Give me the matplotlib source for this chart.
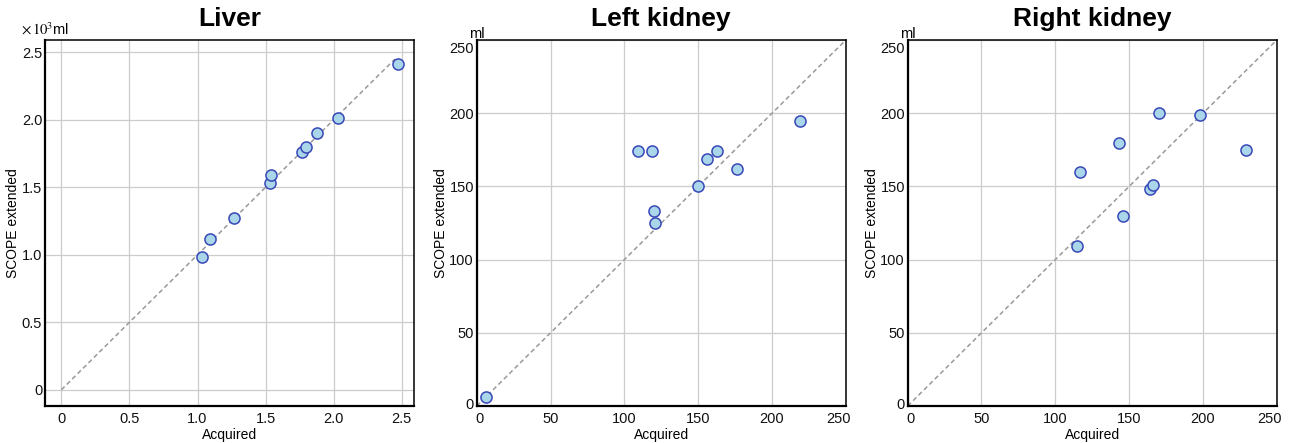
import numpy as np
import matplotlib
matplotlib.use("Agg")
import matplotlib.pyplot as plt
from matplotlib.transforms import ScaledTranslation

plt.rcParams['font.family'] = ['Liberation Sans', 'DejaVu Sans']
plt.rcParams['mathtext.fontset'] = 'stix'

# liver volumes (x10^3 ml)
liver_acq = [1.03, 1.09, 1.27, 1.53, 1.54, 1.77, 1.80, 1.88, 2.03, 2.47]
liver_scope = [0.98, 1.12, 1.27, 1.53, 1.59, 1.76, 1.80, 1.90, 2.01, 2.41]

# left kidney (ml)
lk_acq = [6, 109, 119, 120, 121, 150, 156, 163, 176, 219]
lk_scope = [6, 174, 174, 133, 125, 150, 169, 174, 162, 195]

# right kidney (ml)
rk_acq = [115, 117, 143, 146, 164, 166, 170, 198, 229]
rk_scope = [109, 160, 180, 130, 148, 151, 200, 199, 175]

titles = ['Liver', 'Left kidney', 'Right kidney']
units = [r'$\times\,10^{3}$ml', 'ml', 'ml']
unit_y = [1.007, 0.997, 0.997]

fig = plt.figure(figsize=(12.93, 4.43), dpi=100)
lefts = [0.0348, 0.3687, 0.702]
axes = [fig.add_axes([l, 0.0835, 0.2854, 0.826]) for l in lefts]

panels = [
    (liver_acq, liver_scope, (-0.12, 2.59), [0, 0.5, 1.0, 1.5, 2.0, 2.5],
     ['0', '0.5', '1.0', '1.5', '2.0', '2.5'], 2.45),
    (lk_acq, lk_scope, (0, 250), [0, 50, 100, 150, 200, 250],
     ['0', '50', '100', '150', '200', '250'], 250),
    (rk_acq, rk_scope, (0, 250), [0, 50, 100, 150, 200, 250],
     ['0', '50', '100', '150', '200', '250'], 250),
]

def nudge(lbl, dx, dy):
    # shift an edge tick label by a few pixels so it stays inside the frame
    lbl.set_transform(lbl.get_transform() + ScaledTranslation(dx / 100, dy / 100, fig.dpi_scale_trans))

for ax, (xs, ys, lim, ticks, labels, lend), title, unit, uy in zip(axes, panels, titles, units, unit_y):
    ax.set_xlim(lim)
    ax.set_ylim(lim)
    ax.set_xticks(ticks)
    ax.set_yticks(ticks)
    ax.set_xticklabels(labels)
    ax.set_yticklabels(labels)
    ax.grid(True, color='#cccccc', linewidth=0.9)
    ax.set_axisbelow(True)
    ax.tick_params(length=0, labelsize=10.5, colors='#111111')
    ax.tick_params(axis='y', pad=2)
    ax.tick_params(axis='x', pad=4)
    ax.plot([0, lend], [0, lend], ls='--', color='#999999', lw=1.1, dashes=(3, 2), zorder=2)
    ax.plot(xs, ys, 'o', ms=8, mfc='#a9d6e8', mec='#3848b8', mew=1.1, zorder=3, clip_on=False)
    for side in ['left', 'bottom']:
        ax.spines[side].set_linewidth(1.6)
    for side in ['top', 'right']:
        ax.spines[side].set_linewidth(1.1)
    ax.set_title(title, fontsize=19, fontweight='bold', pad=10)
    ax.set_xlabel('Acquired', fontsize=10, labelpad=2)
    ax.set_ylabel('SCOPE extended', fontsize=10, labelpad=1)
    ax.text(0.0, uy, unit, transform=ax.transAxes, ha='center', va='bottom', fontsize=10.5)
    if lim[0] == 0:
        xl = ax.get_xticklabels()
        yl = ax.get_yticklabels()
        nudge(xl[0], 3, 0)
        nudge(xl[-1], -7, 0)
        nudge(yl[0], 0, 3)
        nudge(yl[-1], 0, -7)

fig.savefig('out.png', dpi=100)
